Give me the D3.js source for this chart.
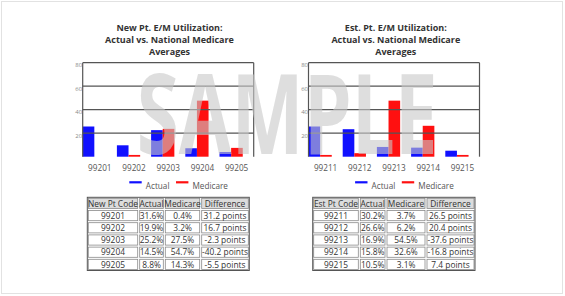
<!DOCTYPE html>
<html>
<head>
<meta charset="utf-8">
<script src="https://cdn.jsdelivr.net/npm/d3@7"></script>
<style>
	body { margin: 0; background: #fff; }
	svg { display: block; font-family: "Open Sans", sans-serif; }
</style>
</head>
<body>
<svg id="chart"></svg>
<script>
const W = 565;
const H = 296;

// bar heights as drawn
const newCodes = ['99201', '99202', '99203', '99204', '99205'];
const newActualBars = [25.7, 9.7, 22.6, 7.2, 4.0];
const newMedicareBars = [0.0, 1.5, 23.7, 47.7, 7.5];

const estCodes = ['99211', '99212', '99213', '99214', '99215'];
const estActualBars = [25.7, 23.4, 8.3, 7.7, 5.1];
const estMedicareBars = [1.5, 3.0, 47.7, 26.3, 1.5];

// table values
const newActual = [31.6, 19.9, 25.2, 14.5, 8.8];
const newMedicare = [0.4, 3.2, 27.5, 54.7, 14.3];
const newDiff = [31.2, 16.7, -2.3, -40.2, -5.5];

const estActual = [30.2, 26.6, 16.9, 15.8, 10.5];
const estMedicare = [3.7, 6.2, 54.5, 32.6, 3.1];
const estDiff = [26.5, 20.4, -37.6, -16.8, 7.4];

const yTicks = [20, 40, 60, 80];
const seriesNames = ['Actual', 'Medicare'];
const seriesColors = ['#1010ff', '#ff1010'];

const svg = d3.select('#chart')
	.attr('width', W)
	.attr('height', H);

// page frame
svg.append('rect')
	.attr('x', 1.5).attr('y', 1.5)
	.attr('width', W - 4).attr('height', H - 4)
	.attr('fill', '#fff')
	.attr('stroke', '#e2e2e2');

const drawPanel = (opt) => {
	const g = svg.append('g');
	const left = opt.left, right = opt.left + 171;
	const top = 62.7, bottom = 156.7;

	// title
	g.append('text')
		.attr('x', opt.titleX)
		.attr('text-anchor', 'middle')
		.attr('font-size', 9)
		.attr('font-weight', 'bold')
		.attr('fill', '#333')
		.selectAll('tspan')
		.data(opt.title)
		.enter().append('tspan')
		.attr('x', opt.titleX)
		.attr('y', (d, i) => 31 + i * 12)
		.text(d => d);

	const x = d3.scaleBand()
		.domain(opt.codes)
		.range([left, right])
		.paddingInner(0);

	const y = d3.scaleLinear()
		.domain([0, 80])
		.range([bottom, top]);

	const bw = x.bandwidth() * 0.34;

	// bars
	const series = [opt.actual, opt.medicare];
	series.forEach((vals, s) => {
		g.selectAll('.bar' + s)
			.data(vals)
			.enter().append('rect')
			.attr('class', 'bar' + s)
			.attr('x', (d, i) => x(opt.codes[i]) + s * bw)
			.attr('y', d => y(d))
			.attr('width', bw)
			.attr('height', d => bottom - y(d))
			.attr('fill', seriesColors[s]);
	});

	// grid lines
	g.selectAll('.grid')
		.data(yTicks)
		.enter().append('line')
		.attr('class', 'grid')
		.attr('x1', left).attr('x2', right)
		.attr('y1', d => y(d)).attr('y2', d => y(d))
		.attr('stroke', '#555')
		.attr('stroke-width', 1.2);

	g.append('line')
		.attr('x1', left).attr('x2', left)
		.attr('y1', top).attr('y2', bottom)
		.attr('stroke', '#555').attr('stroke-width', 1.2);
	g.append('line')
		.attr('x1', right).attr('x2', right)
		.attr('y1', top).attr('y2', bottom)
		.attr('stroke', '#555').attr('stroke-width', 1.2);

	// y labels
	g.selectAll('.ylab')
		.data(yTicks)
		.enter().append('text')
		.attr('class', 'ylab')
		.attr('x', left - 0.5)
		.attr('y', d => y(d) + 4.5)
		.attr('text-anchor', 'end')
		.attr('font-size', 6)
		.attr('fill', '#888')
		.text(d => d);

	// x axis labels
	g.append('g')
		.attr('transform', `translate(0,${bottom})`)
		.call(d3.axisBottom(x).tickSize(0).tickPadding(8))
		.call(a => a.select('.domain').remove())
		.selectAll('text')
		.attr('font-family', '"Open Sans", sans-serif')
		.attr('font-size', 8.2)
		.attr('fill', '#555');

	// legend
	const lg = g.append('g')
		.attr('transform', `translate(${left + 46.6},182.3)`);
	const lx = [0, 46.7];
	seriesNames.forEach((name, i) => {
		lg.append('line')
			.attr('x1', lx[i]).attr('x2', lx[i] + 12.4)
			.attr('y1', 0).attr('y2', 0)
			.attr('stroke', seriesColors[i])
			.attr('stroke-width', 2.2);
		lg.append('text')
			.attr('x', lx[i] + 16.5)
			.attr('y', 6.5)
			.attr('font-size', 8.2)
			.attr('fill', '#555')
			.text(name);
	});

	// table
	const cols = opt.tableCols;
	const rowH = 12.2;
	const tTop = 197.3;
	const header = [opt.codeHeader, 'Actual', 'Medicare', 'Difference'];
	const rows = opt.codes.map((c, i) => [
		c,
		opt.tActual[i].toFixed(1) + '%',
		opt.tMedicare[i].toFixed(1) + '%',
		opt.tDiff[i].toFixed(1) + ' points'
	]);
	const allRows = [header].concat(rows);
	const tg = g.append('g');
	allRows.forEach((row, r) => {
		row.forEach((cell, c) => {
			tg.append('rect')
				.attr('x', cols[c] + 1)
				.attr('y', tTop + r * rowH + 1)
				.attr('width', cols[c + 1] - cols[c] - 2)
				.attr('height', rowH - 2)
				.attr('fill', r === 0 ? '#dcdcdc' : '#fff')
				.attr('stroke', '#8a8a8a')
				.attr('stroke-width', 0.8);
			tg.append('text')
				.attr('x', (cols[c] + cols[c + 1]) / 2)
				.attr('y', tTop + r * rowH + 9.2)
				.attr('text-anchor', 'middle')
				.attr('font-size', 8.4)
				.attr('fill', '#333')
				.text(cell);
		});
	});
	tg.append('rect')
		.attr('x', cols[0]).attr('y', tTop)
		.attr('width', cols[4] - cols[0])
		.attr('height', rowH * allRows.length)
		.attr('fill', 'none')
		.attr('stroke', '#555')
		.attr('stroke-width', 1);
};

drawPanel({
	left: 82.7,
	titleX: 169.5,
	title: ['New Pt. E/M Utilization:', 'Actual vs. National Medicare', 'Averages'],
	codes: newCodes,
	actual: newActualBars,
	medicare: newMedicareBars,
	codeHeader: 'New Pt Code',
	tActual: newActual,
	tMedicare: newMedicare,
	tDiff: newDiff,
	tableCols: [87.3, 138.7, 164.3, 200.7, 249.3]
});

drawPanel({
	left: 308.5,
	titleX: 395.8,
	title: ['Est. Pt. E/M Utilization:', 'Actual vs. National Medicare', 'Averages'],
	codes: estCodes,
	actual: estActualBars,
	medicare: estMedicareBars,
	codeHeader: 'Est Pt Code',
	tActual: estActual,
	tMedicare: estMedicare,
	tDiff: estDiff,
	tableCols: [312.7, 359.3, 386, 426, 475]
});

// watermark
svg.append('text')
	.attr('x', 136.7)
	.attr('y', 154)
	.attr('font-family', '"Open Sans", sans-serif')
	.attr('font-weight', 'bold')
	.attr('font-size', 112)
	.attr('textLength', 301)
	.attr('lengthAdjust', 'spacingAndGlyphs')
	.attr('fill', '#c8c8c8')
	.attr('fill-opacity', 0.6)
	.text('SAMPLE');
</script>
</body>
</html>
